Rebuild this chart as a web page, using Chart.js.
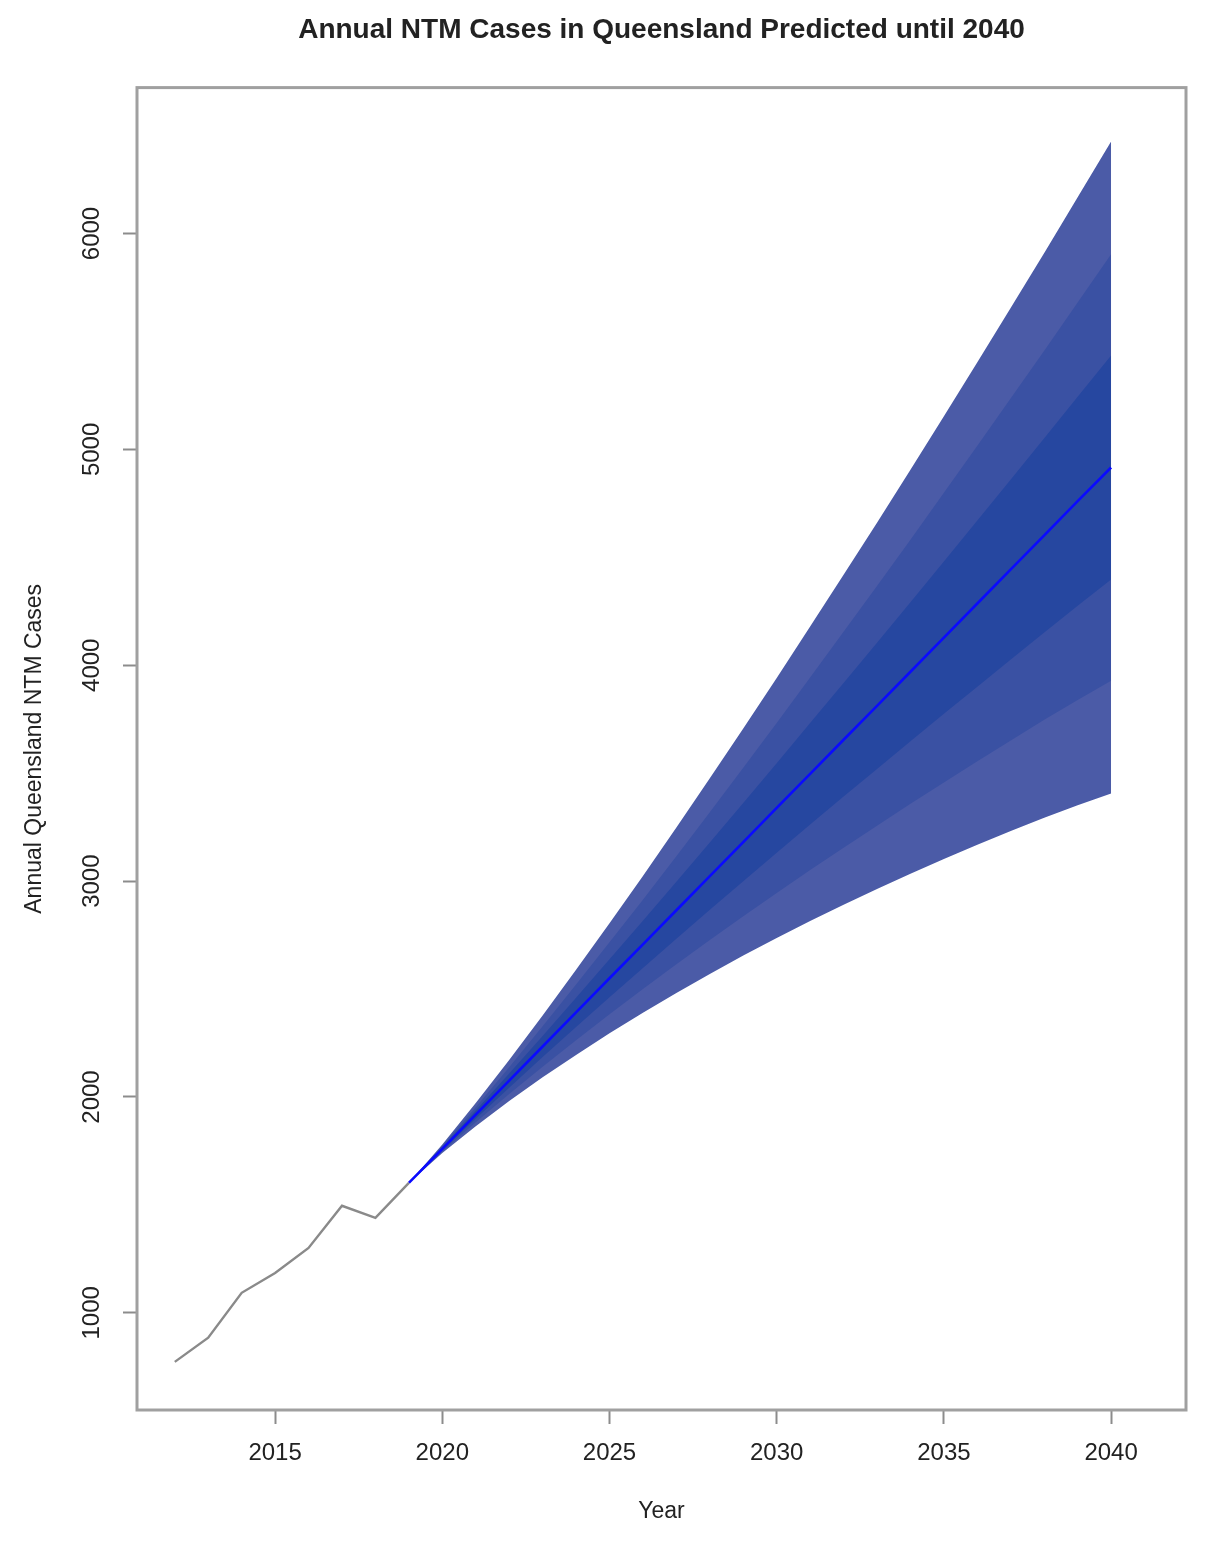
<!DOCTYPE html>
<html>
<head>
<meta charset="utf-8">
<script src="https://cdn.jsdelivr.net/npm/chart.js@4/dist/chart.umd.min.js"></script>
<style>
  html, body { margin: 0; padding: 0; background: #ffffff; }
  #c { display: block; }
</style>
</head>
<body>
<canvas id="c" width="1215" height="1553"></canvas>
<script>
// ---- data ----
const histYears = [2012, 2013, 2014, 2015, 2016, 2017, 2018, 2019];
const histCases = [773, 885, 1093, 1185, 1301, 1496, 1440, 1602];

const fcYears = [2019, 2020, 2021, 2022, 2023, 2024, 2025, 2026, 2027, 2028, 2029, 2030,
                 2031, 2032, 2033, 2034, 2035, 2036, 2037, 2038, 2039, 2040];
const fcMean = [1602, 1760, 1918, 2076, 2234, 2392, 2550, 2707, 2865, 3023, 3181, 3339,
                3497, 3655, 3812, 3970, 4128, 4286, 4444, 4602, 4760, 4916];
const hi95 = [1602, 1780, 1972, 2171, 2377, 2589, 2805, 3024, 3248, 3476, 3707, 3941,
              4179, 4419, 4660, 4906, 5154, 5404, 5656, 5910, 6168, 6426];
const lo95 = [1602, 1740, 1864, 1981, 2091, 2195, 2295, 2390, 2482, 2570, 2655, 2737,
              2815, 2891, 2964, 3034, 3102, 3168, 3232, 3294, 3352, 3406];
const hi80 = [1602, 1773, 1953, 2138, 2328, 2521, 2717, 2914, 3115, 3319, 3525, 3733,
              3943, 4155, 4367, 4582, 4799, 5017, 5237, 5457, 5681, 5904];
const lo80 = [1602, 1747, 1883, 2014, 2140, 2263, 2383, 2500, 2615, 2727, 2837, 2945,
              3051, 3155, 3257, 3358, 3457, 3555, 3651, 3747, 3839, 3928];
const hi50 = [1602, 1767, 1937, 2109, 2283, 2460, 2638, 2816, 2997, 3179, 3362, 3546,
              3732, 3918, 4104, 4292, 4481, 4671, 4861, 5052, 5244, 5435];
const lo50 = [1602, 1753, 1899, 2043, 2185, 2324, 2462, 2598, 2733, 2867, 3000, 3132,
              3262, 3392, 3520, 3648, 3775, 3901, 4027, 4152, 4276, 4397];

const xTicks = [2015, 2020, 2025, 2030, 2035, 2040];
const yTicks = [1000, 2000, 3000, 4000, 5000, 6000];

const titleText = 'Annual NTM Cases in Queensland Predicted until 2040';
const xTitle = 'Year';
const yTitle = 'Annual Queensland NTM Cases';

// ---- build chart ----
const pts = (xs, ys) => xs.map((x, i) => ({ x: x, y: ys[i] }));

const FONT = "'Liberation Sans', Arial, sans-serif";
const TXT = '#222222';
const AXC = '#8c8c8c';

const boxPlugin = {
  id: 'box',
  afterDraw(chart) {
    const a = chart.chartArea, ctx = chart.ctx;
    ctx.save();
    ctx.strokeStyle = '#a0a0a0';
    ctx.lineWidth = 3;
    ctx.strokeRect(a.left, a.top, a.right - a.left, a.bottom - a.top);
    ctx.restore();
  }
};

const bandDs = (label, data, color, fill, order) => ({
  label, data, fill, order,
  backgroundColor: color, borderColor: color, borderWidth: 0,
  pointRadius: 0, tension: 0
});

new Chart(document.getElementById('c'), {
  type: 'line',
  data: {
    datasets: [
      bandDs('hi95', pts(fcYears, hi95), '#4b5ba7', '+1', 10),
      bandDs('lo95', pts(fcYears, lo95), '#4b5ba7', false, 10),
      bandDs('hi80', pts(fcYears, hi80), '#3a51a3', '+1', 9),
      bandDs('lo80', pts(fcYears, lo80), '#3a51a3', false, 9),
      bandDs('hi50', pts(fcYears, hi50), '#2647a0', '+1', 8),
      bandDs('lo50', pts(fcYears, lo50), '#2647a0', false, 8),
      { label: 'mean', data: pts(fcYears, fcMean), borderColor: '#0a0aff', borderWidth: 2.6,
        pointRadius: 0, fill: false, order: 2 },
      { label: 'observed', data: pts(histYears, histCases), borderColor: '#8a8a8a', borderWidth: 2.4,
        pointRadius: 0, fill: false, order: 1 }
    ]
  },
  options: {
    responsive: false,
    animation: false,
    devicePixelRatio: 1,
    layout: { padding: { left: 0, right: 29, top: 0, bottom: 0 } },
    plugins: {
      legend: { display: false },
      tooltip: { enabled: false },
      title: {
        display: true, text: titleText, color: TXT, fullSize: false,
        font: { family: FONT, size: 28, weight: 'bold' },
        padding: { top: 13, bottom: 41 }
      }
    },
    scales: {
      x: {
        type: 'linear', min: 2010.87, max: 2042.24,
        afterBuildTicks: s => { s.ticks = xTicks.map(v => ({ value: v })); },
        afterFit: s => { s.height = 143; },
        grid: { display: true, drawOnChartArea: false, drawTicks: true, tickLength: 14, tickColor: AXC, tickWidth: 2 },
        border: { display: false },
        ticks: { color: TXT, font: { family: FONT, size: 24 }, padding: 15, maxRotation: 0, minRotation: 0,
                 callback: v => String(v) },
        title: { display: true, text: xTitle, color: TXT, font: { family: FONT, size: 23 }, padding: { top: 0, bottom: 28 } }
      },
      y: {
        type: 'linear', min: 550, max: 6676,
        afterBuildTicks: s => { s.ticks = yTicks.map(v => ({ value: v })); },
        afterFit: s => { s.width = 137; },
        grid: { display: true, drawOnChartArea: false, drawTicks: true, tickLength: 14, tickColor: AXC, tickWidth: 2 },
        border: { display: false },
        ticks: { color: TXT, font: { family: FONT, size: 24 }, padding: 4, minRotation: 90, maxRotation: 90,
                 crossAlign: 'center', callback: v => String(v) },
        title: { display: true, text: yTitle, color: TXT, font: { family: FONT, size: 23 }, padding: { top: 21, bottom: 0 } }
      }
    }
  },
  plugins: [boxPlugin]
});
</script>
</body>
</html>
